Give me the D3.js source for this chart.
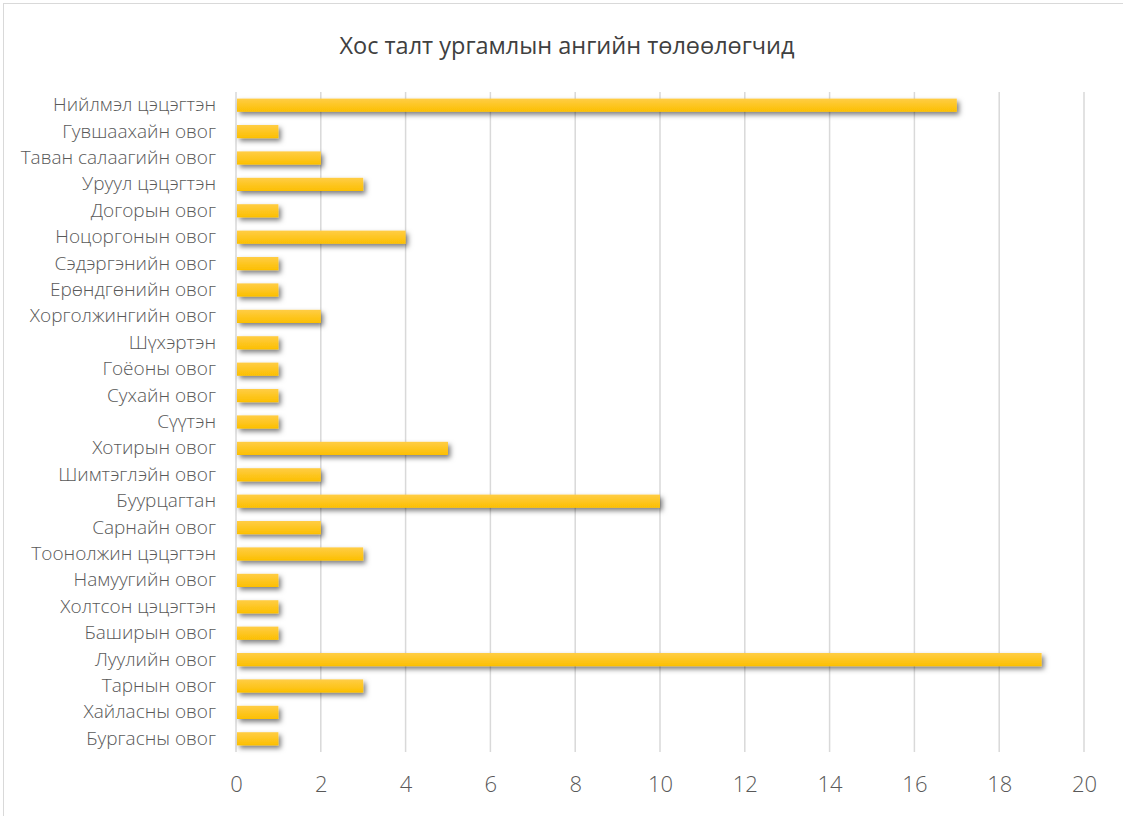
<!DOCTYPE html>
<html>
<head>
<meta charset="utf-8">
<script src="https://cdn.jsdelivr.net/npm/d3@7"></script>
<style>
  html, body { margin: 0; padding: 0; background: #fff; }
  svg { display: block; }
</style>
</head>
<body>
<svg id="chart" width="1123" height="816"></svg>
<script>
const title = "Хос талт ургамлын ангийн төлөөлөгчид";
const categories = [
  "Нийлмэл цэцэгтэн", "Гувшаахайн овог", "Таван салаагийн овог", "Уруул цэцэгтэн",
  "Догорын овог", "Ноцоргонын овог", "Сэдэргэнийн овог", "Ерөндгөнийн овог",
  "Хорголжингийн овог", "Шүхэртэн", "Гоёоны овог", "Сухайн овог", "Сүүтэн",
  "Хотирын овог", "Шимтэглэйн овог", "Буурцагтан", "Сарнайн овог",
  "Тоонолжин цэцэгтэн", "Намуугийн овог", "Холтсон цэцэгтэн", "Баширын овог",
  "Луулийн овог", "Тарнын овог", "Хайласны овог", "Бургасны овог"
];
const values = [17, 1, 2, 3, 1, 4, 1, 1, 2, 1, 1, 1, 1, 5, 2, 10, 2, 3, 1, 1, 1, 19, 3, 1, 1];
const xTicks = [0, 2, 4, 6, 8, 10, 12, 14, 16, 18, 20];

const svg = d3.select("#chart");
const W = 1123, H = 816;
const margin = { left: 236, right: 39, top: 92, bottom: 64 };

const defs = svg.append("defs");
const grad = defs.append("linearGradient").attr("id", "barGrad")
  .attr("x1", 0).attr("y1", 0).attr("x2", 0).attr("y2", 1);
grad.append("stop").attr("offset", "0%").attr("stop-color", "#ffcd45");
grad.append("stop").attr("offset", "100%").attr("stop-color", "#fcbf00");
const filt = defs.append("filter").attr("id", "shadow")
  .attr("x", "-10%").attr("y", "-50%").attr("width", "130%").attr("height", "250%");
filt.append("feDropShadow").attr("dx", 2.5).attr("dy", 3).attr("stdDeviation", 2.5)
  .attr("flood-color", "#000").attr("flood-opacity", 0.5);

// chart border
svg.append("rect").attr("x", 3.5).attr("y", 3.5).attr("width", 1140).attr("height", 840)
  .attr("fill", "#fff").attr("stroke", "#d9d9d9").attr("stroke-width", 1);

const x = d3.scaleLinear().domain([0, 20]).range([margin.left, W - margin.right]);
const y = d3.scaleBand().domain(categories).range([margin.top, H - margin.bottom]).paddingInner(0.5).paddingOuter(0.25);

// gridlines
svg.append("g").selectAll("line").data(xTicks).join("line")
  .attr("x1", d => x(d)).attr("x2", d => x(d))
  .attr("y1", margin.top).attr("y2", H - margin.bottom)
  .attr("stroke", "#d9d9d9").attr("stroke-width", 1.5);

// bars
svg.append("g").selectAll("rect").data(categories).join("rect")
  .attr("x", x(0) + 1)
  .attr("y", d => y(d))
  .attr("width", (d, i) => x(values[i]) - x(0) - 1)
  .attr("height", y.bandwidth())
  .attr("fill", "url(#barGrad)")
  .attr("filter", "url(#shadow)");

// category axis labels
const yAxis = d3.axisLeft(y).tickSize(0).tickPadding(20);
const gy = svg.append("g").attr("transform", `translate(${margin.left},0)`).call(yAxis);
gy.select(".domain").remove();
gy.selectAll("text").attr("fill", "#595959").attr("font-size", 19)
  .attr("font-family", "'Open Sans', sans-serif").attr("font-weight", 300);

// x axis labels
const xAxis = d3.axisBottom(x).tickValues(xTicks).tickSize(0).tickPadding(24).tickFormat(d3.format("d"));
const gx = svg.append("g").attr("transform", `translate(0,${H - margin.bottom})`).call(xAxis);
gx.select(".domain").remove();
gx.selectAll("text").attr("fill", "#595959").attr("font-size", 22)
  .attr("font-family", "'Open Sans', sans-serif").attr("font-weight", 300);

// title
svg.append("text").attr("x", 567).attr("y", 54).attr("text-anchor", "middle")
  .attr("fill", "#404040").attr("font-size", 23.5)
  .attr("font-family", "'Liberation Sans Narrow', 'Open Sans', sans-serif")
  .text(title);
</script>
</body>
</html>
